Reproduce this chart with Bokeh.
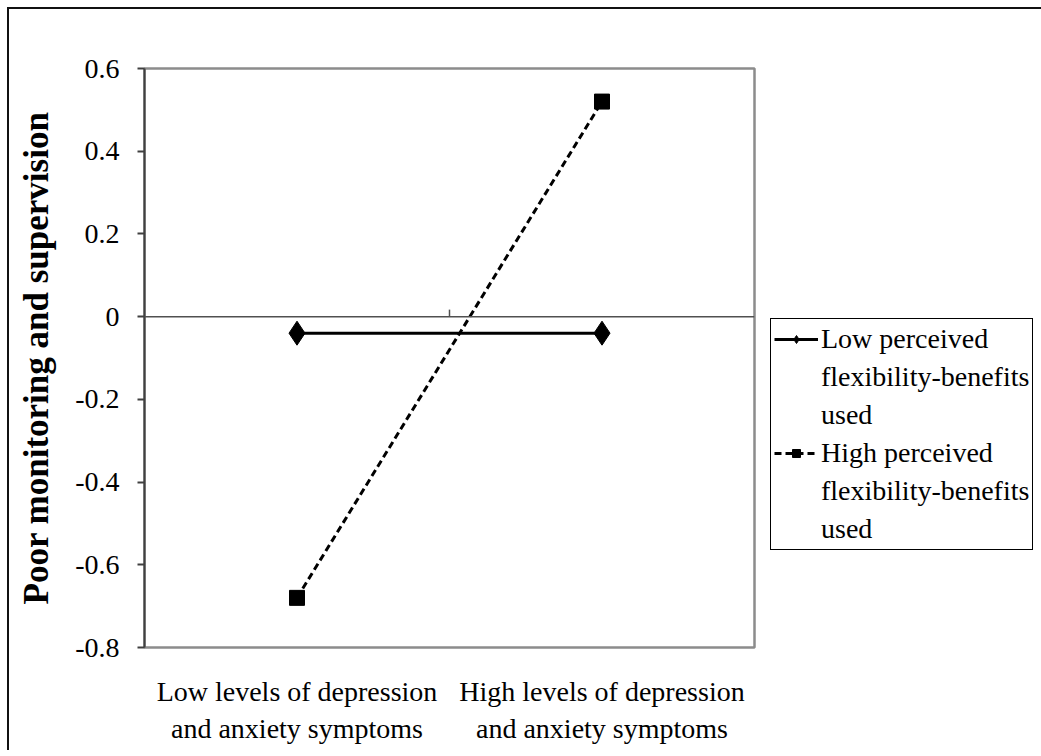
from bokeh.plotting import figure
from bokeh.models import FactorRange, Range1d, FixedTicker, Span, Legend, LegendItem, ColumnDataSource
from bokeh.embed import file_html
from bokeh.resources import INLINE

categories = ["Low levels of depression\nand anxiety symptoms",
              "High levels of depression\nand anxiety symptoms"]
low_flex = [-0.04, -0.04]
high_flex = [-0.68, 0.52]
series_lines = [["Low perceived", "flexibility-benefits", "used"],
                ["High perceived", "flexibility-benefits", "used"]]
y_ticks = [-0.8, -0.6, -0.4, -0.2, 0, 0.2, 0.4, 0.6]
y_tick_labels = ["-0.8", "-0.6", "-0.4", "-0.2", "0", "0.2", "0.4", "0.6"]
y_title = "Poor monitoring and supervision"

FONT = "Liberation Serif"

p = figure(frame_width=610, frame_height=579,
           x_range=FactorRange(factors=categories, range_padding=0),
           y_range=Range1d(y_ticks[0], y_ticks[-1]),
           output_backend="svg", toolbar_location=None,
           min_border_left=135, min_border_right=278,
           min_border_top=59, min_border_bottom=105)
p.styles = {"margin-left": "9px", "margin-top": "9px",
            "box-shadow": "-2px -2px 0px 0px #111111"}
p.grid.visible = False
p.outline_line_color = "#8c8c8c"
p.outline_line_width = 2.5
p.background_fill_color = "white"
p.border_fill_color = "white"

# y axis
ya = p.yaxis[0]
ya.ticker = FixedTicker(ticks=y_ticks)
ya.major_label_overrides = {t: l for t, l in zip(y_ticks, y_tick_labels)}
ya.axis_line_color = "#404040"
ya.axis_line_width = 2
ya.major_tick_line_color = "#404040"
ya.major_tick_line_width = 2
ya.major_tick_out = 7
ya.major_tick_in = 0
ya.minor_tick_line_color = None
ya.major_label_text_font = FONT
ya.major_label_text_font_size = "28px"
ya.major_label_text_color = "black"
ya.major_label_standoff = 18
ya.axis_label = y_title
ya.axis_label_text_font = FONT
ya.axis_label_text_font_style = "bold"
ya.axis_label_text_font_size = "35px"
ya.axis_label_text_color = "black"
ya.axis_label_standoff = 16

# x axis
xa = p.xaxis[0]
xa.axis_line_color = None
xa.major_tick_line_color = None
xa.minor_tick_line_color = None
xa.major_label_text_font = FONT
xa.major_label_text_font_size = "28px"
xa.major_label_text_color = "black"
xa.major_label_standoff = 22

# zero line and category boundary tick
p.add_layout(Span(location=0, dimension="width", line_color="#505050", line_width=1.5))
tick_src = ColumnDataSource(dict(x0=[(categories[1], -0.5)], y0=[0], x1=[(categories[1], -0.5)], y1=[0.017]))
p.segment(x0="x0", y0="y0", x1="x1", y1="y1", source=tick_src, line_color="#505050", line_width=1.5)

src_low = ColumnDataSource(dict(x=categories, y=low_flex))
src_high = ColumnDataSource(dict(x=categories, y=high_flex))

r1 = p.line("x", "y", source=src_low, line_color="black", line_width=3)
r1m = p.scatter("x", "y", source=src_low, marker="diamond", size=24, fill_color="black", line_color="black")
r2 = p.line("x", "y", source=src_high, line_color="black", line_width=3, line_dash="7 4")
r2m = p.scatter("x", "y", source=src_high, marker="square", size=15, fill_color="black", line_color="black")

items = []
for lines, rends in zip(series_lines, [[r1, r1m], [r2, r2m]]):
    items.append(LegendItem(label=lines[0], renderers=rends))
    for extra in lines[1:]:
        items.append(LegendItem(label=extra, renderers=[]))

legend = Legend(items=items, location=(16, 97))
legend.label_text_font = FONT
legend.label_text_font_size = "28px"
legend.label_text_color = "black"
legend.label_height = 34
legend.glyph_width = 44
legend.glyph_height = 20
legend.label_standoff = 3
legend.padding = 3
legend.spacing = 4
legend.margin = 0
legend.border_line_color = "black"
legend.border_line_alpha = 1.0
legend.border_line_width = 1.5
legend.background_fill_color = "white"
legend.background_fill_alpha = 1
p.add_layout(legend, "right")

open("out.html", "w").write(file_html(p, INLINE))
